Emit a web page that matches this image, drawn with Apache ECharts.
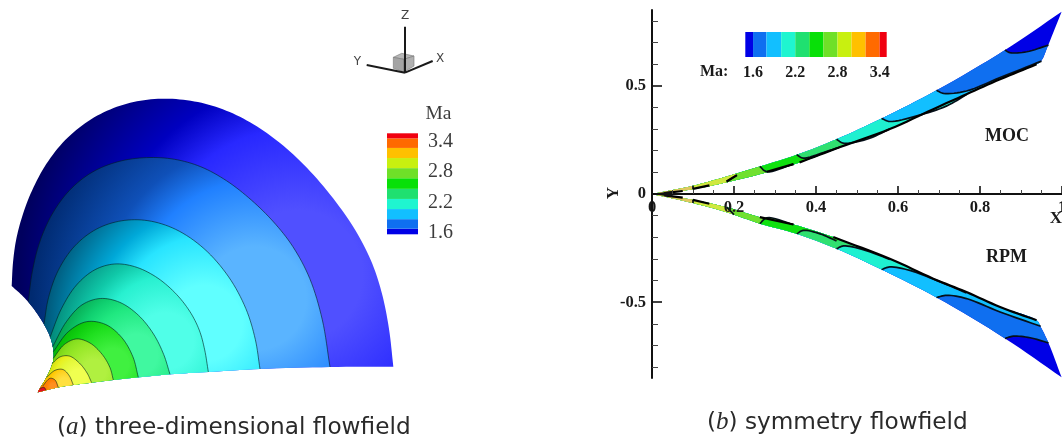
<!DOCTYPE html>
<html><head><meta charset="utf-8">
<style>html,body{margin:0;padding:0;background:#fff}#c{width:1062px;height:441px;filter:blur(.45px)}</style>
<script src="https://cdn.jsdelivr.net/npm/echarts@6/dist/echarts.min.js"></script>
</head><body><div id="c"></div>
<script>
// ---------- data: panel (a), surface read in picture units ----------
const surfLeftEdge=[[113,1177],[118,1168],[135,1140],[150,1110],[160,1080],[160,1050],[150,1010],[130,970],[100,925],[70,890],[35,858]];
const surfBottomEdge=[[113,1177],[175,1162],[220,1155],[275,1148],[340,1140],[415,1132],[510,1123],[625,1116],[780,1107],[990,1101],[1180,1100]];
const surfContours=[
 [[35,858],[35,780],[45,720],[60,660],[90,570],[130,490],[190,410],[260,355],[340,315],[420,295],[500,288],[600,298],[680,325],[760,365],[840,420],[920,495],[1000,580],[1090,720],[1110,760],[1150,870],[1175,980],[1180,1100]],
 [[85,905],[90,820],[110,720],[150,640],[200,560],[270,505],[350,475],[440,465],[530,470],[600,490],[680,530],[760,600],[830,670],[872,720],[940,820],[980,950],[990,1101]],
 [[132,972],[135,900],[160,810],[220,720],[280,675],[370,650],[440,652],[520,670],[620,725],[700,830],[750,930],[775,1020],[780,1107]],
 [[150,1012],[175,920],[220,840],[290,792],[340,782],[400,788],[470,820],[530,870],[580,940],[605,990],[615,1040],[625,1116]],
 [[158,1040],[195,945],[240,900],[300,880],[360,892],[420,935],[470,1000],[500,1070],[510,1123]],
 [[160,1055],[200,985],[260,955],[320,965],[370,1010],[405,1070],[415,1132]],
 [[160,1075],[190,1025],[230,1010],[270,1022],[310,1062],[335,1105],[340,1140]],
 [[155,1092],[180,1065],[207,1060],[240,1088],[265,1120],[275,1148]],
 [[140,1132],[165,1105],[190,1102],[210,1125],[220,1155]],
 [[128,1158],[150,1135],[165,1140],[175,1162]],
 [[120,1165],[132,1162],[138,1170]]
];
// ---------- data: triad ----------
const triadLines=[[[1215,80],[1215,218]],[[1215,218],[1298,183]],[[1215,218],[1100,195]]];
const triadFaces=[[[1180,172],[1205,160],[1242,168],[1212,178]],[[1180,172],[1212,178],[1212,216],[1180,205]],[[1212,178],[1242,168],[1242,198],[1212,216]]];
const triadLabels=[['Z',1215,48],['X',1320,177],['Y',1072,187]];
// ---------- data: colour bars ----------
const barEdgesA=[1.57,1.68,1.87,2.07,2.27,2.47,2.68,2.88,3.08,3.28,3.47,3.57];
const barEdgesB=[1.49,1.6,1.79,2.0,2.2,2.4,2.6,2.8,3.0,3.2,3.4,3.5];
const maTicks=[1.6,2.2,2.8,3.4];
// ---------- data: panel (b) ----------
const xMajor=[0,0.2,0.4,0.6,0.8,1];
const xMinor=[0.05,0.1,0.15,0.25,0.3,0.35,0.45,0.5,0.55,0.65,0.7,0.75,0.85,0.9,0.95];
const yMajor=[-0.5,0,0.5];
const yMinor=[-0.8,-0.7,-0.6,-0.4,-0.3,-0.2,-0.1,0.1,0.2,0.3,0.4,0.6,0.7,0.8];
const mocUpper=[[0,0],[.10,.038],[.182,.081],[.263,.127],[.353,.181],[.45,.253],[.56,.349],[.694,.479],[.861,.665],[.999,.842]];
const mocLower=[[0,0],[.10,.022],[.198,.061],[.28,.10],[.361,.146],[.459,.215],[.58,.30],[.686,.392],[.767,.461],[.849,.53],[.938,.599],[.95,.617],[.967,.691],[.999,.842]];
const mocContours=[
 [[.861,.665],[.873,.653],[.914,.657],[.967,.688]],
 [[.694,.479],[.711,.465],[.767,.476],[.849,.538],[.95,.614]],
 [[.56,.349],[.58,.335],[.646,.361],[.719,.407],[.767,.459]],
 [[.45,.253],[.467,.235],[.524,.253],[.58,.30]],
 [[.353,.181],[.369,.166],[.418,.192],[.459,.217]],
 [[.263,.127],[.28,.103],[.345,.138]],
 [[.207,.087],[.182,.058]],
 [[.10,.038],[.10,.022]]
];
const mocInk=[[[.03,.004],[.075,.014]],[[.10,.024],[.14,.04]],[[.182,.058],[.207,.087]],[[.28,.103],[.345,.138]],[[.36,.146],[.459,.217],[.58,.30],[.686,.392],[.767,.461],[.849,.53],[.938,.599]]];
const rpmUpper=[[0,0],[.10,-.042],[.182,-.084],[.263,-.137],[.353,-.184],[.45,-.253],[.56,-.349],[.694,-.478],[.861,-.667],[.999,-.847]];
const rpmLower=[[0,0],[.10,-.027],[.182,-.061],[.263,-.107],[.345,-.141],[.442,-.199],[.58,-.299],[.686,-.391],[.767,-.453],[.849,-.522],[.938,-.583],[.948,-.614],[.967,-.688],[.999,-.847]];
const rpmContours=[
 [[.861,-.667],[.881,-.657],[.922,-.664],[.967,-.688]],
 [[.694,-.478],[.719,-.468],[.767,-.483],[.849,-.545],[.948,-.611]],
 [[.56,-.349],[.58,-.337],[.629,-.353],[.694,-.399],[.767,-.457]],
 [[.45,-.253],[.467,-.24],[.515,-.257],[.58,-.302]],
 [[.353,-.184],[.369,-.168],[.41,-.184],[.45,-.217]],
 [[.263,-.137],[.28,-.11],[.345,-.141]],
 [[.20,-.095],[.182,-.061]],
 [[.10,-.042],[.10,-.027]]
];
const rpmInk=[[[.03,-.006],[.075,-.017]],[[.10,-.027],[.14,-.045]],[[.263,-.107],[.345,-.141]],[[.442,-.199],[.58,-.299],[.686,-.391],[.767,-.453],[.849,-.522],[.938,-.583]]];
const apexBlob=[[0,0],[.05,.014],[.05,-.014]];
// ---------- styles ----------
const barColors=['#0000e6','#0f6ff0','#12bfff','#1ff5d0','#1fe070','#08e008','#6fe028','#c8f010','#ffc000','#ff6a00','#f00010'];
const flowBase='#0000e6';
const flowColors=['#0f6ff0','#12bfff','#1ff0d0','#30e070','#10e010','#70e030','#d0e840','#e0c860'];
// radial stops, lit centre outwards: highlight, lit side, upper side, shaded side
const surfStops=[
 ['#5050ff','#2828ff','#0000c0','#00005e'],
 ['#5ab4ff','#2080ff','#0f50b8','#002a70'],
 ['#60ffff','#28e4ff','#00a8d8','#005070'],
 ['#50ffe8','#28f0d0','#10c8a8','#007a70'],
 ['#40f8a0','#20e880','#10d070','#009040'],
 ['#40f040','#20e020','#10d010','#00a800'],
 ['#b0f040','#98e828','#88e020','#60c000'],
 ['#f0ff50','#e4f838','#e8f020','#c0d000'],
 ['#ffe040','#ffd020','#ffc800','#f0b000'],
 ['#ff9020','#ff8000','#ff8000','#ff7000'],
 ['#e01020','#e01020','#e01020','#e01020']
];
const SERIF='"Liberation Serif"';
// ---------- helpers ----------
function relax(p,passes){
  let q=p;
  for(let n=0;n<passes;n++)q=q.map((v,i)=>(i===0||i===q.length-1)?v:[0,1].map(j=>.25*q[i-1][j]+.5*v[j]+.25*q[i+1][j]));
  return q;
}
function spline(p){
  if(p.length<3)return p;
  const n=p.length,e=[[2*p[0][0]-p[1][0],2*p[0][1]-p[1][1]],...p,[2*p[n-1][0]-p[n-2][0],2*p[n-1][1]-p[n-2][1]]];
  const lerp=(a,b,ta,tb,t)=>[0,1].map(j=>(a[j]*(tb-t)+b[j]*(t-ta))/(tb-ta));
  const step=(a,b)=>Math.sqrt(Math.hypot(a[0]-b[0],a[1]-b[1]))+1e-6;
  const out=[];
  for(let i=1;i<e.length-2;i++){
    const [P0,P1,P2,P3]=[e[i-1],e[i],e[i+1],e[i+2]];
    const t0=0,t1=t0+step(P0,P1),t2=t1+step(P1,P2),t3=t2+step(P2,P3);
    for(let k=0;k<8;k++){const t=t1+(t2-t1)*k/8;
      const A1=lerp(P0,P1,t0,t1,t),A2=lerp(P1,P2,t1,t2,t),A3=lerp(P2,P3,t2,t3,t);
      const B1=lerp(A1,A2,t0,t2,t),B2=lerp(A2,A3,t1,t3,t);
      out.push(lerp(B1,B2,t1,t2,t));}
  }
  out.push(p[n-1]);return out;
}
function nearest(edge,pt){let bi=0,bd=1e18;edge.forEach((e,i)=>{const d=(e[0]-pt[0])**2+(e[1]-pt[1])**2;if(d<bd){bd=d;bi=i;}});return bi;}
function bandItem(api,contour,upper,lower,fill,stroke,lw,passes){
  const c=spline(relax(contour.map(p=>api.coord(p)),passes||0));
  const u=spline(upper.map(p=>api.coord(p))),l=spline(lower.map(p=>api.coord(p)));
  const poly=c.concat(l.slice(0,nearest(l,c[c.length-1])+1).reverse(),u.slice(0,nearest(u,c[0])+1));
  const kids=[{type:'polygon',shape:{points:poly},style:{fill:fill}}];
  if(stroke)kids.push({type:'polyline',shape:{points:c},style:{fill:'none',stroke:stroke,lineWidth:lw}});
  return {type:'group',children:kids};
}
function gradient(st){return {type:'radial',x:.75,y:.6,r:1,colorStops:[.22,.5,.65,.95].map((o,i)=>({offset:o,color:st[i]}))};}
function flowSeries(base,contours,upper,lower,ink,name){
  return [
   {type:'custom',name:name+' base',xAxisIndex:4,yAxisIndex:4,silent:true,data:[[0,0]],z:2,
    renderItem:(p,api)=>{const u=spline(upper.map(q=>api.coord(q))),l=spline(lower.map(q=>api.coord(q)));
      return {type:'polygon',shape:{points:u.concat(l.slice().reverse())},style:{fill:base}};}},
   {type:'custom',name:name+' bands',xAxisIndex:4,yAxisIndex:4,silent:true,data:contours.map((c,i)=>[i,0]),z:3,
    renderItem:(p,api)=>bandItem(api,contours[p.dataIndex],upper,lower,flowColors[p.dataIndex],'#05101a',1.7)},
   {type:'custom',name:name+' ink',xAxisIndex:4,yAxisIndex:4,silent:true,data:ink.map((c,i)=>[i,0]),z:4,
    renderItem:(p,api)=>({type:'polyline',shape:{points:spline(ink[p.dataIndex].map(q=>api.coord(q)))},style:{fill:'none',stroke:'#000',lineWidth:2.2}})}
  ];
}
const serifBold={fontFamily:SERIF,fontWeight:'bold',color:'#1a1a1a',fontSize:16.5};
const hiddenAxis=(o)=>Object.assign({show:false,type:'value'},o);
const AXIS_LIFT=-184; // x axes cross the y axis at Y = 0
const noBounds={outerBoundsMode:'none'};
const option={
  animation:false,backgroundColor:'#fff',
  grid:[
   {left:0,top:0,width:530,height:441,...noBounds},
   {left:387,top:133.3,width:31,height:101,...noBounds},
   {left:745.3,top:32,width:141.4,height:25,...noBounds},
   {left:652,top:10,width:410,height:368,...noBounds},
   {left:652,top:10,width:410,height:368,...noBounds}
  ],
  xAxis:[
   hiddenAxis({gridIndex:0,min:0,max:1590}),
   hiddenAxis({gridIndex:1,min:0,max:1}),
   {gridIndex:2,type:'value',min:1.49,max:3.5,axisLine:{show:false},axisTick:{show:false},splitLine:{show:false},
    axisLabel:{customValues:maTicks,margin:8,formatter:v=>v.toFixed(1),fontFamily:SERIF,fontWeight:'bold',fontSize:16,color:'#1a1a1a'}},
   {gridIndex:3,type:'value',z:10,min:0,max:1,position:'bottom',offset:AXIS_LIFT,splitLine:{show:false},axisLine:{onZero:false,lineStyle:{color:'#111',width:2}},
    axisTick:{customValues:xMajor,inside:true,length:8,lineStyle:{color:'#111',width:1.6}},
    axisLabel:{customValues:xMajor,margin:5,hideOverlap:false,showMinLabel:true,showMaxLabel:true,formatter:v=>String(v),...serifBold}},
   {gridIndex:4,type:'value',z:10,min:0,max:1,position:'bottom',offset:AXIS_LIFT,splitLine:{show:false},axisLine:{show:false,onZero:false},
    axisTick:{customValues:xMinor,inside:true,length:4,lineStyle:{color:'#444',width:1}},axisLabel:{show:false}}
  ],
  yAxis:[
   hiddenAxis({gridIndex:0,min:0,max:1323,inverse:true}),
   {gridIndex:1,type:'value',min:1.57,max:3.57,position:'right',axisLine:{show:false},axisTick:{show:false},splitLine:{show:false},
    axisLabel:{customValues:maTicks,margin:10,padding:[3,0,0,0],formatter:v=>v.toFixed(1),fontFamily:SERIF,fontSize:20,color:'#3c3c3c'}},
   hiddenAxis({gridIndex:2,min:0,max:1}),
   {gridIndex:3,type:'value',z:10,min:-0.85,max:0.85,splitLine:{show:false},axisLine:{onZero:false,lineStyle:{color:'#111',width:2}},
    axisTick:{customValues:yMajor,inside:true,length:10,lineStyle:{color:'#111',width:1.6}},
    axisLabel:{customValues:yMajor,margin:6,formatter:v=>String(v),...serifBold}},
   {gridIndex:4,type:'value',z:10,min:-0.85,max:0.85,splitLine:{show:false},axisLine:{show:false,onZero:false},
    axisTick:{customValues:yMinor,inside:true,length:6,lineStyle:{color:'#444',width:1}},axisLabel:{show:false}}
  ],
  series:[
   {type:'custom',name:'surface',xAxisIndex:0,yAxisIndex:0,silent:true,z:2,data:surfContours.map((c,i)=>[i,0]),
    renderItem:(p,api)=>{const len=surfContours[p.dataIndex].length;
      return bandItem(api,surfContours[p.dataIndex],surfLeftEdge,surfBottomEdge,gradient(surfStops[p.dataIndex]),p.dataIndex?'rgba(0,30,30,.6)':null,1,len>=9?2:(len>=5?1:0));}},
   {type:'custom',name:'triad faces',xAxisIndex:0,yAxisIndex:0,silent:true,z:2,data:triadFaces.map((c,i)=>[i,0]),
    renderItem:(p,api)=>({type:'polygon',shape:{points:triadFaces[p.dataIndex].map(q=>api.coord(q))},style:{fill:['#b8b8b8','#a4a4a4','#b0b0b0'][p.dataIndex],stroke:'#777',lineWidth:.6}})},
   {type:'custom',name:'triad lines',xAxisIndex:0,yAxisIndex:0,silent:true,z:3,data:triadLines.map((c,i)=>[i,0]),
    renderItem:(p,api)=>({type:'polyline',shape:{points:triadLines[p.dataIndex].map(q=>api.coord(q))},style:{fill:'none',stroke:'#1a1a1a',lineWidth:2}})},
   {type:'custom',name:'triad labels',xAxisIndex:0,yAxisIndex:0,silent:true,z:3,data:triadLabels.map(l=>[l[1],l[2]]),
    renderItem:(p,api)=>{const q=api.coord([api.value(0),api.value(1)]);
      return {type:'text',x:q[0],y:q[1],style:{text:triadLabels[p.dataIndex][0],fontFamily:'"DejaVu Sans"',fontSize:12,fill:'#444',align:'center',verticalAlign:'middle'}};}},
   {type:'custom',name:'bar a',xAxisIndex:1,yAxisIndex:1,silent:true,data:barColors.map((c,i)=>[0,barEdgesA[i],barEdgesA[i+1]]),
    renderItem:(p,api)=>{const a=api.coord([0,api.value(1)]),b=api.coord([1,api.value(2)]);
      return {type:'rect',shape:{x:a[0],y:b[1],width:b[0]-a[0],height:a[1]-b[1]},style:{fill:barColors[p.dataIndex]}};}},
   {type:'custom',name:'bar b',xAxisIndex:2,yAxisIndex:2,silent:true,data:barColors.map((c,i)=>[barEdgesB[i],barEdgesB[i+1]]),
    renderItem:(p,api)=>{const a=api.coord([api.value(0),0]),b=api.coord([api.value(1),1]);
      return {type:'rect',shape:{x:a[0],y:b[1],width:b[0]-a[0],height:a[1]-b[1]},style:{fill:barColors[p.dataIndex]}};}},
   ...flowSeries(flowBase,mocContours,mocUpper,mocLower,mocInk,'MOC'),
   ...flowSeries(flowBase,rpmContours,rpmUpper,rpmLower,rpmInk,'RPM'),
   {type:'custom',name:'apex',xAxisIndex:4,yAxisIndex:4,silent:true,z:5,data:[[0,0]],
    renderItem:(p,api)=>({type:'polygon',shape:{points:apexBlob.map(q=>api.coord(q))},style:{fill:'#111'}})}
  ],
  graphic:[
   {type:'text',left:425.5,top:104,z:10,style:{text:'Ma',fontFamily:SERIF,fontSize:19.5,fill:'#3c3c3c'}},
   {type:'text',left:700,top:64,z:10,style:{text:'Ma:',fontFamily:SERIF,fontWeight:'bold',fontSize:16,fill:'#1a1a1a'}},
   {type:'text',left:985,top:127,z:10,style:{text:'MOC',fontFamily:SERIF,fontWeight:'bold',fontSize:18,fill:'#1a1a1a'}},
   {type:'text',left:986,top:248,z:10,style:{text:'RPM',fontFamily:SERIF,fontWeight:'bold',fontSize:18,fill:'#1a1a1a'}},
   {type:'text',x:1056,y:219,z:10,style:{text:'X',fontFamily:SERIF,fontWeight:'bold',fontSize:17,fill:'#1a1a1a',align:'center',verticalAlign:'middle'}},
   {type:'text',x:614,y:193,rotation:Math.PI/2,z:10,style:{text:'Y',fontFamily:SERIF,fontWeight:'bold',fontSize:17,fill:'#1a1a1a',align:'center',verticalAlign:'middle'}},
   {type:'text',left:57,top:415,z:10,style:{text:'({i|a}) three-dimensional flowfield',fontFamily:'"DejaVu Sans"',fontSize:23.2,fill:'#2a2a2a',rich:{i:{fontFamily:SERIF,fontStyle:'italic',fontSize:25,fill:'#2a2a2a'}}}},
   {type:'text',left:707,top:410,z:10,style:{text:'({i|b}) symmetry flowfield',fontFamily:'"DejaVu Sans"',fontSize:23.2,fill:'#2a2a2a',rich:{i:{fontFamily:SERIF,fontStyle:'italic',fontSize:25,fill:'#2a2a2a'}}}}
  ]
};
echarts.init(document.getElementById('c')).setOption(option);
</script></body></html>
